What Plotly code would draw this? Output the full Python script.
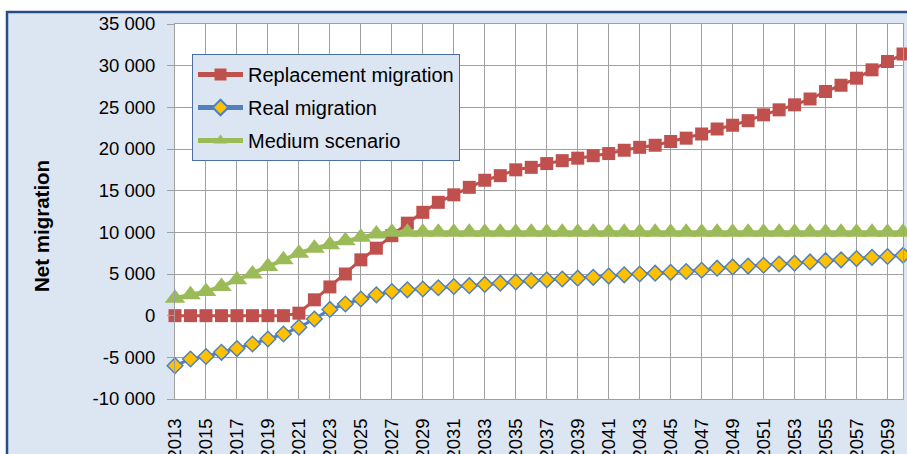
import plotly.graph_objects as go

years = list(range(2013, 2061))

replacement = [0, 0, 0, 0, 0, 0, 0, 0, 300, 1900, 3450, 5000, 6700, 8100, 9600, 11100,
               12400, 13600, 14500, 15400, 16250, 16800, 17500, 17800, 18250, 18600,
               18900, 19200, 19450, 19850, 20200, 20450, 20900, 21300, 21800, 22400,
               22850, 23400, 24100, 24700, 25300, 26000, 26900, 27650, 28500, 29500,
               30500, 31400]

real = [-6000, -5200, -4900, -4400, -3950, -3400, -2800, -2200, -1400, -400, 750, 1400,
        2000, 2500, 2900, 3100, 3200, 3350, 3500, 3600, 3750, 3900, 4050, 4200, 4300,
        4400, 4500, 4600, 4750, 4900, 5000, 5100, 5200, 5300, 5450, 5700, 5850, 5950,
        6050, 6200, 6300, 6450, 6600, 6700, 6850, 7000, 7100, 7250]

medium = [2100, 2500, 2900, 3500, 4300, 5000, 5900, 6700, 7500, 8100, 8500, 9000, 9400,
          9800, 10000] + [10000] * 33

series_names = ["Replacement migration", "Real migration", "Medium scenario"]

x_tickvals = list(range(2013, 2060, 2))
x_ticktext = [str(v) for v in x_tickvals]
y_tickvals = list(range(-10000, 35001, 5000))
y_ticktext = ["-10 000", "-5 000", "0", "5 000", "10 000", "15 000", "20 000",
              "25 000", "30 000", "35 000"]
y_title = "Net migration"

W, H = 907, 454
ML, MR, MT, MB = 175, 4, 24, 55
PW, PH = W - ML - MR, H - MT - MB


def px_x(p):
    return (p - ML) / PW


def px_y(p):
    return (H - MB - p) / PH


FONT = "Liberation Sans, Arial, sans-serif"
BG = "#DCE6F2"
BORDER = "#264E86"
GRID = "#A0A0A0"

fig = go.Figure()
fig.add_trace(go.Scatter(
    x=years, y=replacement, name=series_names[0], mode="lines+markers",
    line=dict(color="#C0504D", width=3),
    marker=dict(symbol="square", size=13, color="#C0504D"),
    cliponaxis=False, legendgroup="a"))
fig.add_trace(go.Scatter(
    x=years, y=real, name=series_names[1], mode="lines+markers",
    line=dict(color="#4F81BD", width=3),
    marker=dict(symbol="diamond", size=12, color="#FFC000",
                line=dict(color="#4F81BD", width=1.5)),
    cliponaxis=False, legendgroup="b"))
fig.add_trace(go.Scatter(
    x=years, y=medium, name=series_names[2], mode="lines+markers",
    line=dict(color="#9BBB59", width=4),
    marker=dict(symbol="triangle-up", size=18, color="#9BBB59"),
    cliponaxis=False, legendgroup="c"))

shapes = [
    dict(type="rect", xref="paper", yref="paper", x0=px_x(-20), x1=px_x(W + 20),
         y0=px_y(12), y1=px_y(-20), fillcolor="white", line_width=0, layer="above"),
    dict(type="rect", xref="paper", yref="paper", x0=px_x(-20), x1=px_x(6),
         y0=px_y(H + 20), y1=px_y(-20), fillcolor="white", line_width=0, layer="above"),
    dict(type="line", xref="paper", yref="paper", x0=px_x(6), x1=px_x(W + 20),
         y0=px_y(12), y1=px_y(12), line=dict(color=BORDER, width=2.5), layer="above"),
    dict(type="line", xref="paper", yref="paper", x0=px_x(7), x1=px_x(7),
         y0=px_y(11), y1=px_y(H + 20), line=dict(color=BORDER, width=2.5), layer="above"),
]

fig.update_layout(
    width=W, height=H,
    margin=dict(l=ML, r=MR, t=MT, b=MB, pad=0, autoexpand=False),
    paper_bgcolor=BG, plot_bgcolor="white",
    font=dict(family=FONT, size=19, color="black"),
    showlegend=True,
    legend=dict(
        x=px_x(192), y=px_y(54), xanchor="left", yanchor="top",
        bgcolor=BG, bordercolor="#4A6FA5", borderwidth=1,
        font=dict(family=FONT, size=20, color="black"),
        traceorder="grouped", tracegroupgap=4, itemwidth=45,
        itemsizing="constant",
    ),
    xaxis=dict(
        range=[2013, 2060], tickmode="array", tickvals=x_tickvals, ticktext=x_ticktext,
        tickangle=-90, showgrid=True, gridcolor=GRID, gridwidth=1,
        showline=True, linecolor=GRID, linewidth=1, mirror=True,
        ticks="", zeroline=False, ticklabelstandoff=11, automargin=False,
        tickfont=dict(family=FONT, size=18.5, color="black"),
    ),
    yaxis=dict(
        range=[-10000, 35000], tickmode="array", tickvals=y_tickvals, ticktext=y_ticktext,
        showgrid=True, gridcolor=GRID, gridwidth=1,
        showline=True, linecolor=GRID, linewidth=1, mirror=True,
        ticks="outside", ticklen=7, tickcolor=GRID, zeroline=False,
        ticklabelstandoff=8, automargin=False,
        tickfont=dict(family=FONT, size=18.5, color="black"),
    ),
    shapes=shapes,
    annotations=[dict(
        text="<b>" + y_title + "</b>", xref="paper", yref="paper",
        x=px_x(42), y=px_y(226), textangle=-90, showarrow=False,
        xanchor="center", yanchor="middle",
        font=dict(family=FONT, size=20.5, color="black"),
    )],
)

fig.write_html("out.html", config={"displayModeBar": False},
               post_script="document.body.style.margin='0px';document.body.style.overflow='hidden';")
